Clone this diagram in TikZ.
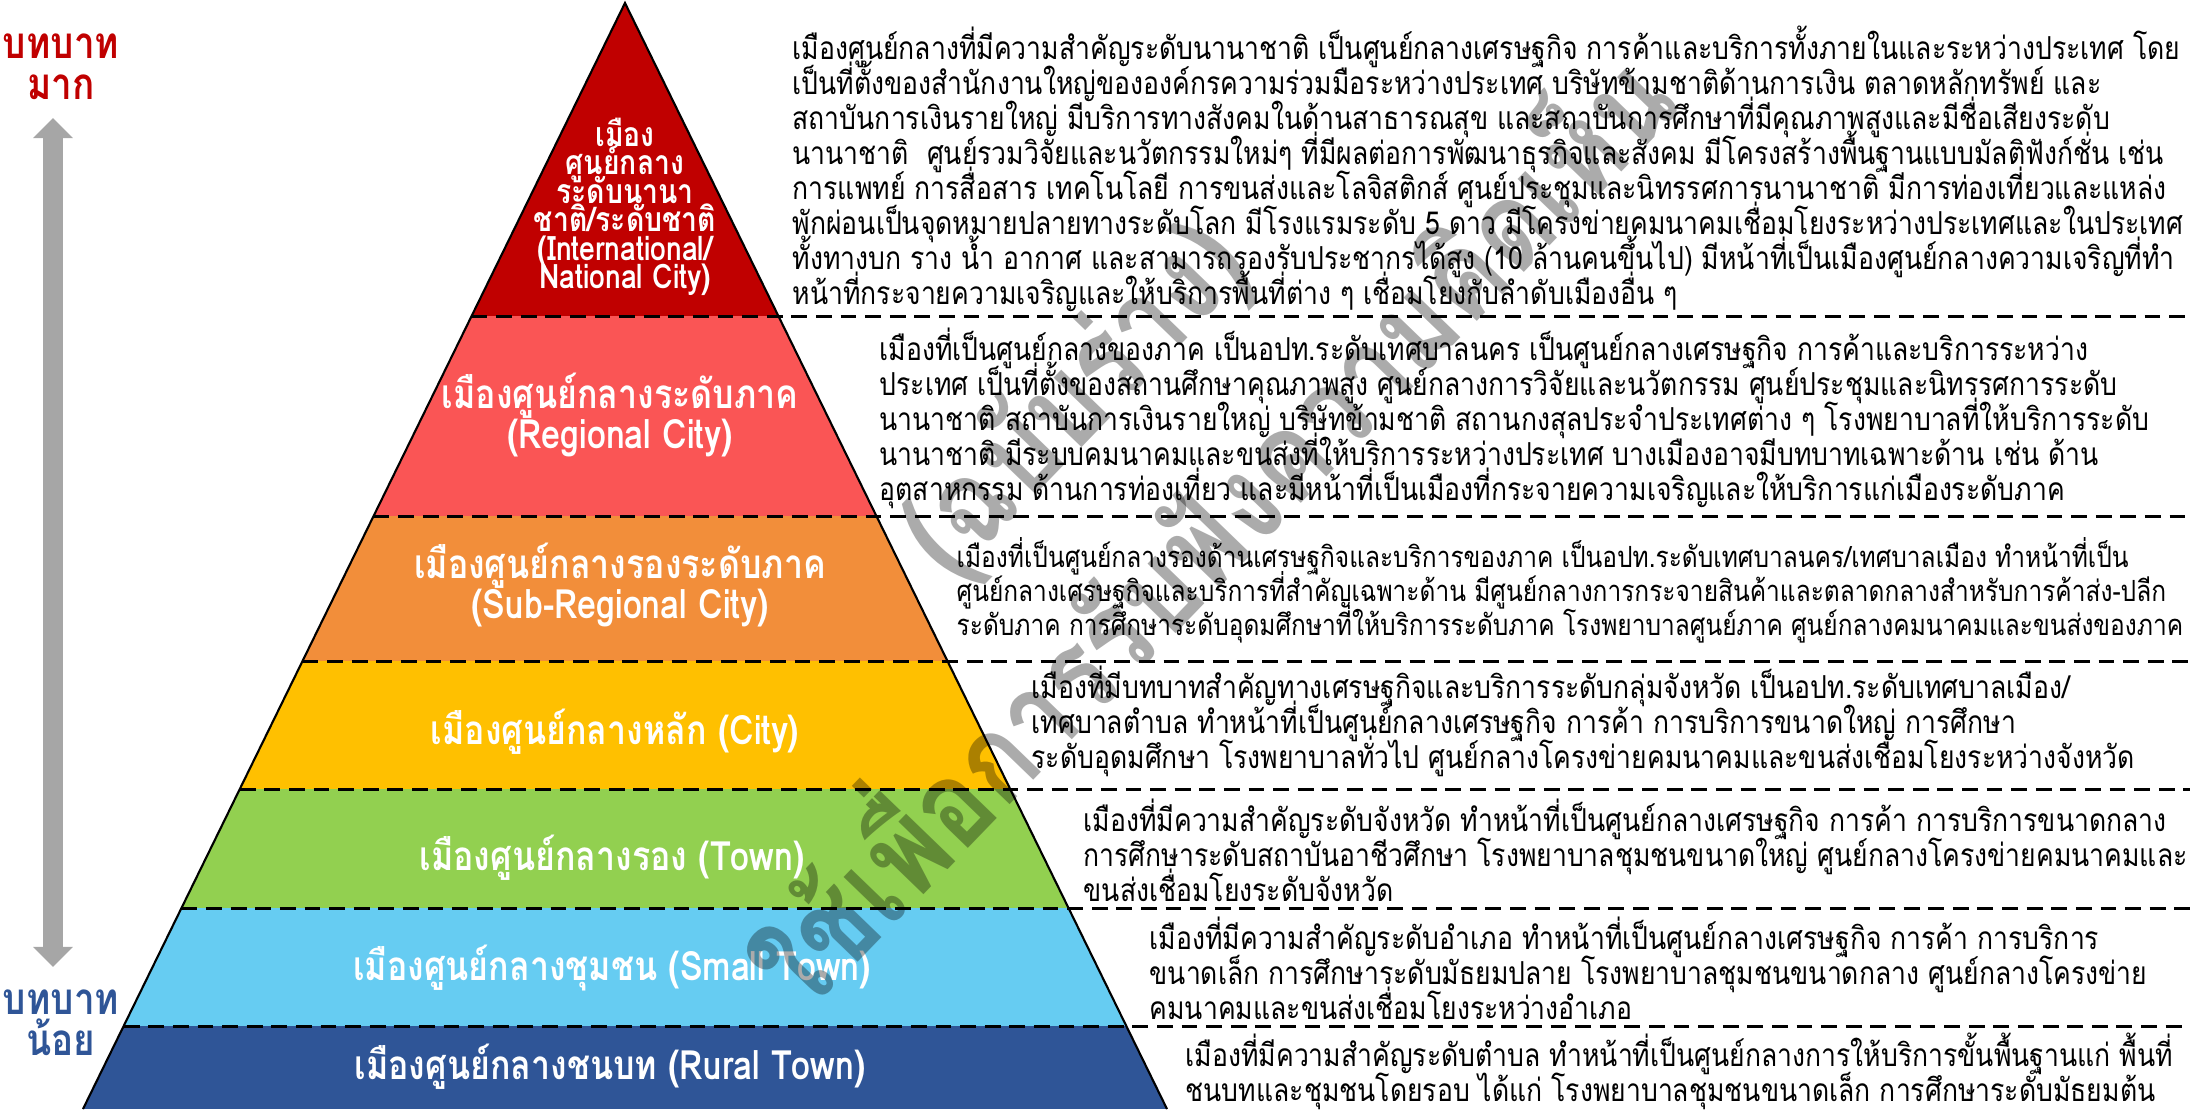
\documentclass[tikz,border=0pt]{standalone}
\usepackage{fontspec}
\usepackage{tikz}
\usetikzlibrary{arrows.meta}
\newfontfamily\thaifont[Script=Thai,FakeStretch=0.84]{Loma}
\definecolor{intlred}{RGB}{192,0,0}
\definecolor{regionred}{RGB}{250,85,85}
\definecolor{suborange}{RGB}{242,142,58}
\definecolor{cityyellow}{RGB}{255,192,0}
\definecolor{towngreen}{RGB}{146,208,80}
\definecolor{smallblue}{RGB}{102,204,242}
\definecolor{ruralblue}{RGB}{47,85,151}
\definecolor{rolegray}{RGB}{166,166,166}
\newcommand{\tightlines}{\lineskiplimit=-\maxdimen}
\tikzset{
  tier/.style={font=\thaifont\bfseries\fontsize{11.5}{11.4}\selectfont\tightlines, text=white, align=center, inner sep=0pt},
  desc/.style={font=\thaifont\fontsize{9}{9.96}\selectfont\tightlines, align=left, anchor=west, inner sep=0pt},
  sepline/.style={line width=0.85pt, dash pattern=on 4.5pt off 2.5pt},
  role/.style={font=\thaifont\bfseries\fontsize{12.5}{11.7}\selectfont\tightlines, align=center, inner sep=0pt},
  draftmark/.style={font=\thaifont\bfseries\fontsize{35}{56}\selectfont\tightlines, text=black, text opacity=0.33, align=center, rotate=46, inner sep=0pt}
}

\begin{document}
\begin{tikzpicture}[x=0.1mm,y=-0.1mm]
\useasboundingbox (0,0) rectangle (2205,1109);
\coordinate (apex) at (625,3);
\coordinate (bl) at (83,1109);
\coordinate (br) at (1167,1109);

\begin{scope}
\clip (apex) -- (bl) -- (br) -- cycle;
\foreach \ya/\yb/\col in {0/316/intlred, 316/516/regionred, 516/661/suborange,
  661/789/cityyellow, 789/908/towngreen, 908/1026/smallblue, 1026/1109/ruralblue}
  \fill[\col] (0,\ya) rectangle (1300,\yb);
\end{scope}
\draw[line width=0.6pt] (bl) -- (apex) -- (br);
\foreach \y in {316,516,661,789,908,1026}
  \draw[sepline] ({625-0.49*(\y-3)},\y) -- (2190,\y);

% role arrow
\coordinate (more) at (53,118);
\coordinate (less) at (53,967);
\draw[rolegray, line width=5.7pt, {Triangle[width=11pt,length=5.7pt]}-{Triangle[width=11pt,length=5.7pt]}] (more) -- (less);
\node[role, text=intlred] (morelbl) at (61,67) {บทบาท\\มาก};
\node[role, text=ruralblue] (lesslbl) at (61,1023) {บทบาท\\น้อย};

% tiers
\node[tier, font=\thaifont\bfseries\fontsize{9.6}{8.1}\selectfont\tightlines] (intl) at (625,207)
  {เมือง\\ศูนย์กลาง\\ระดับนานา\\ชาติ/ระดับชาติ\\(International/\\National City)};
\node[tier] (region) at (620,415) {เมืองศูนย์กลางระดับภาค\\(Regional City)};
\node[tier] (subregion) at (620,585) {เมืองศูนย์กลางรองระดับภาค\\(Sub-Regional City)};
\node[tier] (city) at (615,732) {เมืองศูนย์กลางหลัก (City)};
\node[tier] (town) at (612,858) {เมืองศูนย์กลางรอง (Town)};
\node[tier] (small) at (612,968) {เมืองศูนย์กลางชุมชน (Small Town)};
\node[tier] (rural) at (610,1067) {เมืองศูนย์กลางชนบท (Rural Town)};

% descriptions
\node[desc] (intldesc) at (792,169) {เมืองศูนย์กลางที่มีความสำคัญระดับนานาชาติ เป็นศูนย์กลางเศรษฐกิจ การค้าและบริการทั้งภายในและระหว่างประเทศ โดย\\
เป็นที่ตั้งของสำนักงานใหญ่ขององค์กรความร่วมมือระหว่างประเทศ บริษัทข้ามชาติด้านการเงิน ตลาดหลักทรัพย์ และ\\
สถาบันการเงินรายใหญ่ มีบริการทางสังคมในด้านสาธารณสุข และสถาบันการศึกษาที่มีคุณภาพสูงและมีชื่อเสียงระดับ\\
นานาชาติ~ ศูนย์รวมวิจัยและนวัตกรรมใหม่ๆ ที่มีผลต่อการพัฒนาธุรกิจและสังคม มีโครงสร้างพื้นฐานแบบมัลติฟังก์ชั่น เช่น\\
การแพทย์ การสื่อสาร เทคโนโลยี การขนส่งและโลจิสติกส์ ศูนย์ประชุมและนิทรรศการนานาชาติ มีการท่องเที่ยวและแหล่ง\\
พักผ่อนเป็นจุดหมายปลายทางระดับโลก มีโรงแรมระดับ 5 ดาว มีโครงข่ายคมนาคมเชื่อมโยงระหว่างประเทศและในประเทศ\\
ทั้งทางบก ราง น้ำ อากาศ และสามารถรองรับประชากรได้สูง (10 ล้านคนขึ้นไป) มีหน้าที่เป็นเมืองศูนย์กลางความเจริญที่ทำ\\
หน้าที่กระจายความเจริญและให้บริการพื้นที่ต่าง ๆ เชื่อมโยงกับลำดับเมืองอื่น ๆ};
\node[desc] (regiondesc) at (879,418) {เมืองที่เป็นศูนย์กลางของภาค เป็นอปท.ระดับเทศบาลนคร เป็นศูนย์กลางเศรษฐกิจ การค้าและบริการระหว่าง\\
ประเทศ เป็นที่ตั้งของสถานศึกษาคุณภาพสูง ศูนย์กลางการวิจัยและนวัตกรรม ศูนย์ประชุมและนิทรรศการระดับ\\
นานาชาติ สถาบันการเงินรายใหญ่ บริษัทข้ามชาติ สถานกงสุลประจำประเทศต่าง ๆ โรงพยาบาลที่ให้บริการระดับ\\
นานาชาติ มีระบบคมนาคมและขนส่งที่ให้บริการระหว่างประเทศ บางเมืองอาจมีบทบาทเฉพาะด้าน เช่น ด้าน\\
อุตสาหกรรม ด้านการท่องเที่ยว และมีหน้าที่เป็นเมืองที่กระจายความเจริญและให้บริการแก่เมืองระดับภาค};
\node[desc, font=\thaifont\fontsize{8.3}{9.7}\selectfont\tightlines] (subregiondesc) at (956,590) {เมืองที่เป็นศูนย์กลางรองด้านเศรษฐกิจและบริการของภาค เป็นอปท.ระดับเทศบาลนคร/เทศบาลเมือง ทำหน้าที่เป็น\\
ศูนย์กลางเศรษฐกิจและบริการที่สำคัญเฉพาะด้าน มีศูนย์กลางการกระจายสินค้าและตลาดกลางสำหรับการค้าส่ง-ปลีก\\
ระดับภาค การศึกษาระดับอุดมศึกษาที่ให้บริการระดับภาค โรงพยาบาลศูนย์ภาค ศูนย์กลางคมนาคมและขนส่งของภาค};
\node[desc] (citydesc) at (1031,721) {เมืองที่มีบทบาทสำคัญทางเศรษฐกิจและบริการระดับกลุ่มจังหวัด เป็นอปท.ระดับเทศบาลเมือง/\\
เทศบาลตำบล ทำหน้าที่เป็นศูนย์กลางเศรษฐกิจ การค้า การบริการขนาดใหญ่ การศึกษา\\
ระดับอุดมศึกษา โรงพยาบาลทั่วไป ศูนย์กลางโครงข่ายคมนาคมและขนส่งเชื่อมโยงระหว่างจังหวัด};
\node[desc] (towndesc) at (1083,850) {เมืองที่มีความสำคัญระดับจังหวัด ทำหน้าที่เป็นศูนย์กลางเศรษฐกิจ การค้า การบริการขนาดกลาง\\
การศึกษาระดับสถาบันอาชีวศึกษา โรงพยาบาลชุมชนขนาดใหญ่ ศูนย์กลางโครงข่ายคมนาคมและ\\
ขนส่งเชื่อมโยงระดับจังหวัด};
\node[desc] (smalldesc) at (1149,968) {เมืองที่มีความสำคัญระดับอำเภอ ทำหน้าที่เป็นศูนย์กลางเศรษฐกิจ การค้า การบริการ\\
ขนาดเล็ก การศึกษาระดับมัธยมปลาย โรงพยาบาลชุมชนขนาดกลาง ศูนย์กลางโครงข่าย\\
คมนาคมและขนส่งเชื่อมโยงระหว่างอำเภอ};
\node[desc] (ruraldesc) at (1185,1071) {เมืองที่มีความสำคัญระดับตำบล ทำหน้าที่เป็นศูนย์กลางการให้บริการขั้นพื้นฐานแก่ พื้นที่\\
ชนบทและชุมชนโดยรอบ ได้แก่ โรงพยาบาลชุมชนขนาดเล็ก การศึกษาระดับมัธยมต้น};

% watermark
\node[draftmark] (draft) at (1138,460) {(ฉบับร่าง)\\ใช้เพื่อการรับฟังความคิดเห็น};
\end{tikzpicture}
\end{document}
